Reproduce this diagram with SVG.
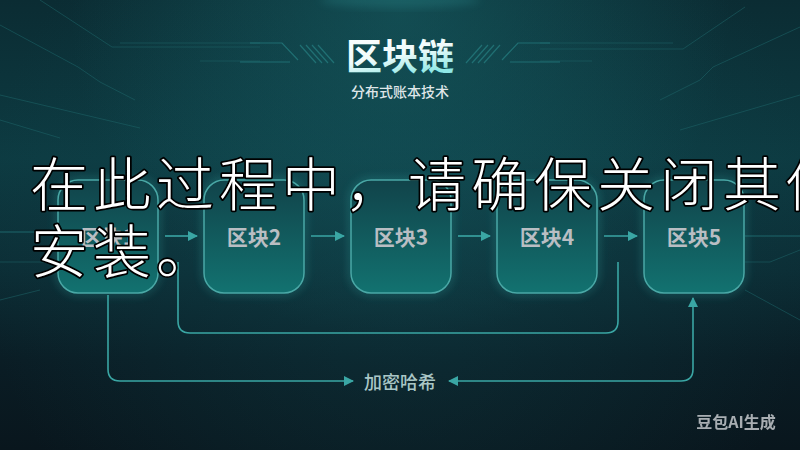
<svg xmlns="http://www.w3.org/2000/svg" width="800" height="450" viewBox="0 0 800 450">
  <defs>
    <linearGradient id="bg" x1="0" y1="0" x2="0" y2="1">
      <stop offset="0" stop-color="#0b2c33"/>
      <stop offset="0.35" stop-color="#0d3b42"/>
      <stop offset="0.6" stop-color="#0c2e36"/>
      <stop offset="0.8" stop-color="#0a1d25"/>
      <stop offset="1" stop-color="#09161d"/>
    </linearGradient>
    <radialGradient id="topGlow" cx="400" cy="10" r="330" gradientUnits="userSpaceOnUse">
      <stop offset="0" stop-color="#1a6a6e" stop-opacity="0.5"/>
      <stop offset="1" stop-color="#1a6a6e" stop-opacity="0"/>
    </radialGradient>
    <radialGradient id="midGlow" cx="400" cy="235" r="420" gradientUnits="userSpaceOnUse">
      <stop offset="0" stop-color="#125058" stop-opacity="0.35"/>
      <stop offset="1" stop-color="#125058" stop-opacity="0"/>
    </radialGradient>
    <linearGradient id="boxFill" x1="0" y1="0" x2="0" y2="1">
      <stop offset="0" stop-color="#11434a"/>
      <stop offset="1" stop-color="#127270"/>
    </linearGradient>
    <linearGradient id="titleFill" x1="0" y1="0" x2="0.4" y2="1">
      <stop offset="0" stop-color="#ffffff"/>
      <stop offset="0.6" stop-color="#f0fbfb"/>
      <stop offset="1" stop-color="#8fe8e6"/>
    </linearGradient>
    <filter id="glow" x="-20%" y="-20%" width="140%" height="140%">
      <feGaussianBlur stdDeviation="4"/>
    </filter>
    <filter id="soft" x="-50%" y="-50%" width="200%" height="200%">
      <feGaussianBlur stdDeviation="2"/>
    </filter>
    <marker id="ah" viewBox="0 0 10 10" refX="9" refY="5" markerWidth="10" markerHeight="10" markerUnits="userSpaceOnUse" orient="auto-start-reverse">
      <path d="M0,0 L10,5 L0,10 z" fill="#3aa6a4"/>
    </marker>
    <style>
      .deco { fill: none; stroke: #1d6468; stroke-width: 1; opacity: 0.55; }
      .deco2 { fill: none; stroke: #2a8a8c; stroke-width: 1.2; opacity: 0.6; }
      .box { fill: url(#boxFill); stroke: #4aa8a6; stroke-width: 1.5; }
      .boxglow { fill: none; stroke: #2fa3a0; stroke-width: 4; opacity: 0.45; filter: url(#glow); }
      .lbl { font-family: "Noto Sans CJK SC", "Noto Sans", sans-serif; font-weight: 700; font-size: 21px; fill: #b9bec3; text-anchor: middle; }
      .conn { fill: none; stroke: #3aa6a4; stroke-width: 1.6; }
      .overlay { font-family: "Noto Sans CJK SC", sans-serif; font-size: 58px; font-weight: 300; fill: #ffffff; stroke: #000000; stroke-width: 3.5; paint-order: stroke; stroke-linejoin: round; letter-spacing: 5px; }
    </style>
  </defs>

  <!-- background -->
  <rect x="0" y="0" width="800" height="450" fill="url(#bg)"/>
  <rect x="0" y="0" width="800" height="450" fill="url(#topGlow)"/>
  <rect x="0" y="0" width="800" height="450" fill="url(#midGlow)"/>
  <ellipse cx="400" cy="0" rx="80" ry="8" fill="#3fb8b8" opacity="0.18" filter="url(#glow)"/>

  <!-- circuit decorations -->
  <g id="decor">
    <path class="deco" d="M40,0 L112,47 H260"/>
    <path class="deco" d="M120,43 H260"/>
    <path class="deco" d="M200,61 H260"/>
    <path class="deco" d="M0,25 L78,67 L100,82 L135,100"/>
    <path class="deco" d="M0,95 L140,128"/>
    <path class="deco" d="M0,120 L60,138"/>
    <path class="deco" d="M540,43 H673"/>
    <path class="deco" d="M540,49 H683 L745,7"/>
    <path class="deco" d="M540,61 H592"/>
    <path class="deco" d="M800,27 L713,67 L700,80 L660,100"/>
    <path class="deco" d="M800,95 L680,130"/>
    <path class="deco2" d="M745,236 H800"/>
    <path class="deco" d="M745,262 H770 L800,250"/>
    <path class="deco" d="M745,290 L800,320"/>
    <path class="deco2" d="M0,232 H40" filter="url(#soft)"/>
    <path class="deco2" d="M0,232 H40"/>
    <path class="deco" d="M0,262 H50"/>
    <path class="deco" d="M0,300 L40,290"/>
    <!-- title side stripes -->
    <path class="deco2" d="M250,43 H282 L298,60"/>
    <path class="deco2" d="M240,62 H290"/>
    <path class="deco2" d="M300,45 L316,63 M306,45 L322,63 M312,45 L328,63 M318,45 L334,63"/>
    <path class="deco2" d="M550,43 H518 L502,60"/>
    <path class="deco2" d="M560,62 H510"/>
    <path class="deco2" d="M500,45 L484,63 M494,45 L478,63 M488,45 L472,63 M482,45 L466,63"/>
  </g>

  <!-- title -->
  <g id="title">
    <text x="400" y="70" text-anchor="middle" font-family="Noto Sans CJK SC, Noto Sans, sans-serif" font-weight="700" font-size="36" fill="url(#titleFill)">区块链</text>
    <text x="400" y="97" text-anchor="middle" font-family="Noto Sans CJK SC, Noto Sans, sans-serif" font-weight="500" font-size="14" fill="#dfe6e8">分布式账本技术</text>
  </g>

  <!-- connectors -->
  <g id="connectors">
    <path class="conn" d="M165,236 H197" marker-end="url(#ah)"/>
    <path class="conn" d="M311,236 H344" marker-end="url(#ah)"/>
    <path class="conn" d="M458,236 H490" marker-end="url(#ah)"/>
    <path class="conn" d="M604,236 H637" marker-end="url(#ah)"/>
    <path class="conn" d="M178,262 V321 Q178,333 190,333 H606 Q618,333 618,321 V262"/>
    <path class="conn" d="M108,295 V369 Q108,381 120,381 H353" marker-end="url(#ah)"/>
    <path class="conn" d="M693,298 V369 Q693,381 681,381 H449" marker-start="url(#ah)" marker-end="url(#ah)"/>
    <text x="400" y="389" text-anchor="middle" font-family="Noto Sans CJK SC, Noto Sans, sans-serif" font-weight="500" font-size="18" fill="#a9c6c6">加密哈希</text>
  </g>

  <!-- nodes -->
  <g id="block1">
    <rect class="boxglow" x="58" y="180" width="100" height="113" rx="20"/>
    <rect class="box" x="58" y="180" width="100" height="113" rx="20"/>
    <text class="lbl" x="108" y="245">区块1</text>
  </g>
  <g id="block2">
    <rect class="boxglow" x="204" y="180" width="100" height="113" rx="20"/>
    <rect class="box" x="204" y="180" width="100" height="113" rx="20"/>
    <text class="lbl" x="254" y="245">区块2</text>
  </g>
  <g id="block3">
    <rect class="boxglow" x="351" y="180" width="100" height="113" rx="20"/>
    <rect class="box" x="351" y="180" width="100" height="113" rx="20"/>
    <text class="lbl" x="401" y="245">区块3</text>
  </g>
  <g id="block4">
    <rect class="boxglow" x="497" y="180" width="100" height="113" rx="20"/>
    <rect class="box" x="497" y="180" width="100" height="113" rx="20"/>
    <text class="lbl" x="547" y="245">区块4</text>
  </g>
  <g id="block5">
    <rect class="boxglow" x="644" y="180" width="100" height="113" rx="20"/>
    <rect class="box" x="644" y="180" width="100" height="113" rx="20"/>
    <text class="lbl" x="694" y="245">区块5</text>
  </g>

  <!-- watermark -->
  <text x="736" y="428" text-anchor="middle" font-family="Noto Sans CJK SC, Noto Sans, sans-serif" font-weight="700" font-size="16" fill="#c4c8cc" opacity="0.85">豆包AI生成</text>

  <!-- overlay text -->
  <g id="overlay">
    <text class="overlay" x="30" y="206">在此过程中，请确保关闭其他</text>
    <text class="overlay" x="30" y="273">安装。</text>
  </g>
</svg>
